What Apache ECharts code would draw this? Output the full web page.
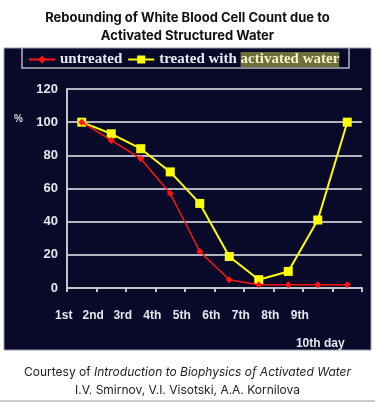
<!DOCTYPE html>
<html>
<head>
<meta charset="utf-8">
<script src="https://cdn.jsdelivr.net/npm/echarts@6/dist/echarts.min.js"></script>
<style>
  html, body { margin: 0; padding: 0; background: #fff; }
  #wbc { width: 375px; height: 403px; }
</style>
</head>
<body>
<div id="wbc"></div>
<script>
var days = ['1st', '2nd', '3rd', '4th', '5th', '6th', '7th', '8th', '9th', '10th day'];
var untreated = [100, 89, 78, 57, 22, 5, 2, 2, 2, 2];
var treated = [100, 93, 84, 70, 51, 19, 5, 10, 41, 100];
var yTicks = [0, 20, 40, 60, 80, 100, 120];

var wbc = echarts.init(document.getElementById('wbc'), null, { renderer: 'canvas' });

var labelFont = { fontFamily: 'Liberation Sans', fontWeight: 'bold', fontSize: 12, color: '#e6e6ee' };

wbc.setOption({
  backgroundColor: '#ffffff',
  animation: false,
  title: [
    {
      text: 'Rebounding of White Blood Cell Count due to\nActivated Structured Water',
      left: 'center',
      top: 4,
      textStyle: { fontFamily: 'Inter', fontWeight: 'bold', fontSize: 13, lineHeight: 18, color: '#111' }
    },
    {
      text: 'Courtesy of {i|Introduction to Biophysics of Activated Water}',
      left: 'center',
      top: 361,
      textStyle: {
        fontFamily: 'Inter', fontWeight: 'normal', fontSize: 12, color: '#222',
        rich: { i: { fontFamily: 'Inter', fontStyle: 'italic', fontSize: 12, color: '#222' } }
      }
    },
    {
      text: 'I.V. Smirnov, V.I. Visotski, A.A. Kornilova',
      left: 'center',
      top: 379,
      textStyle: { fontFamily: 'Inter', fontWeight: 'normal', fontSize: 12, color: '#222' }
    }
  ],
  graphic: {
    elements: [
      { type: 'rect', z: -10, silent: true,
        shape: { x: 4, y: 48, width: 367, height: 302 },
        style: { fill: '#090a2a', stroke: '#9c9ca8', lineWidth: 1 } },
      { type: 'polyline', z: 5, silent: true,
        shape: { points: [[22, 48], [22, 68], [349, 68], [349, 48]] },
        style: { stroke: '#b4b4bc', lineWidth: 1.5, fill: null } },
      { type: 'line', silent: true,
        shape: { x1: 0, y1: 401, x2: 375, y2: 401 },
        style: { stroke: '#9a9aa0', lineWidth: 1 } },
      { type: 'text', silent: true, x: 14, y: 114,
        style: { text: '%', fill: '#d8d8e0', font: 'bold 10px "Liberation Sans"' } }
    ]
  },
  legend: {
    left: 23,
    top: 47,
    itemWidth: 26,
    itemHeight: 10,
    itemGap: 5,
    data: ['untreated', 'treated with activated water'],
    formatter: function (name) {
      return name === 'treated with activated water' ? 'treated with {h|activated water}' : name;
    },
    textStyle: {
      fontFamily: 'Liberation Serif', fontWeight: 'bold', fontSize: 15, color: '#e8e8ee',
      rich: {
        h: { fontFamily: 'Liberation Serif', fontWeight: 'bold', fontSize: 15, color: '#f2f2cc', backgroundColor: '#6f6f3c' }
      }
    }
  },
  grid: { left: 67, right: 13, top: 89, bottom: 115 },
  xAxis: {
    type: 'category',
    boundaryGap: true,
    data: days,
    axisLine: { lineStyle: { color: '#c4c4cc', width: 2 } },
    axisTick: { show: true, length: 4, lineStyle: { color: '#c4c4cc', width: 2 } },
    axisLabel: Object.assign({}, labelFont, {
      margin: 22,
      interval: 0,
      padding: [0, 36, 0, 0],
      formatter: function (v, i) { return i === days.length - 1 ? '{d|' + v + '}' : v; },
      rich: { d: Object.assign({}, labelFont, { padding: [28, 18, 0, 0] }) }
    }),
    splitLine: { show: false }
  },
  yAxis: {
    type: 'value',
    min: 0,
    max: 120,
    interval: 20,
    axisLine: { show: true, lineStyle: { color: '#c4c4cc', width: 2 } },
    axisTick: { show: false },
    axisLabel: Object.assign({}, labelFont, {
      margin: 9,
      fontSize: 13,
      formatter: function (v) { return yTicks.indexOf(v) > -1 ? String(v) : ''; }
    }),
    splitLine: { show: true, lineStyle: { color: '#b4b4c0', width: 2 } }
  },
  series: [
    {
      name: 'untreated',
      type: 'line',
      data: untreated,
      color: '#ff1414',
      symbol: 'diamond',
      symbolSize: 7,
      lineStyle: { width: 1.5, color: '#ff1414' },
      itemStyle: { color: '#ff1414' },
      z: 3
    },
    {
      name: 'treated with activated water',
      type: 'line',
      data: treated,
      color: '#ffff00',
      symbol: 'rect',
      symbolSize: 9,
      lineStyle: { width: 2, color: '#ffff00' },
      itemStyle: { color: '#ffff00' },
      z: 2
    }
  ]
});

window.addEventListener('resize', function () { wbc.resize(); });
</script>
</body>
</html>
